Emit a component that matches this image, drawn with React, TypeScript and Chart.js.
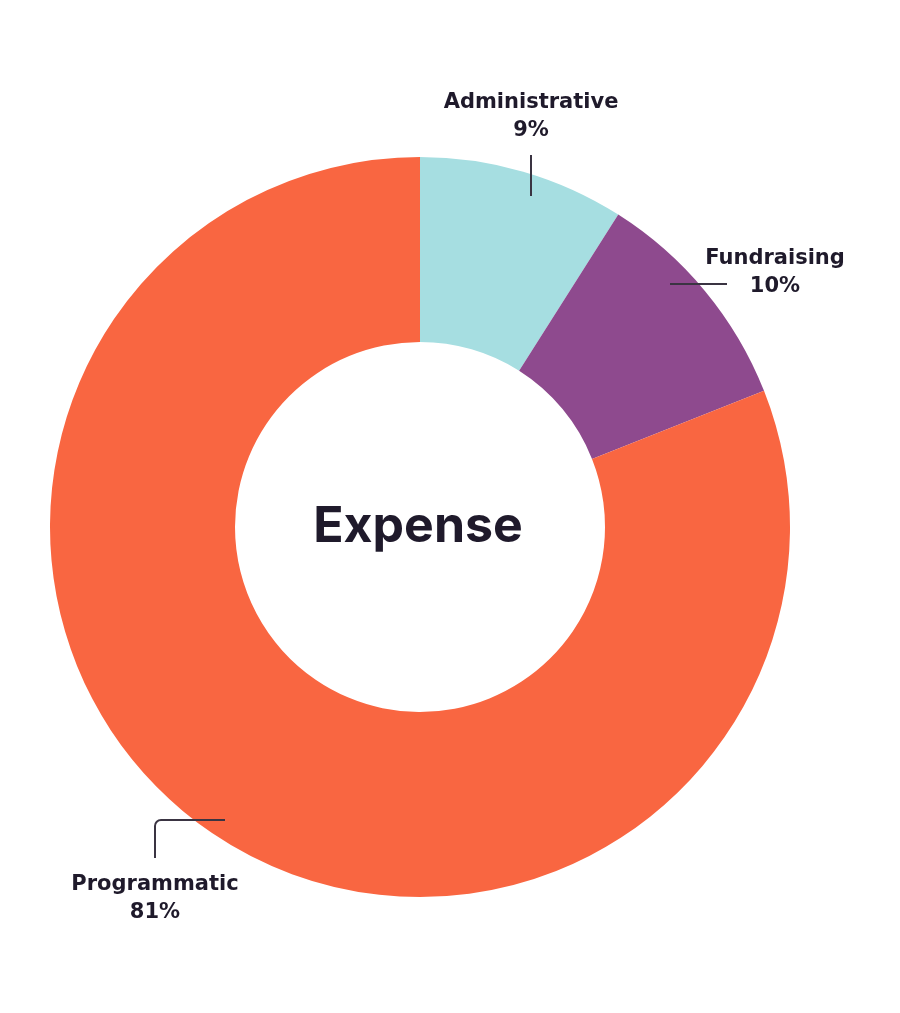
import React, { useEffect, useRef } from "react";
import { Chart, registerables } from "chart.js";

Chart.register(...registerables);

const categories = ["Administrative", "Fundraising", "Programmatic"];
const values = [9, 10, 81];
const valueLabels = ["9%", "10%", "81%"];
const colors = ["#A6DEE1", "#8E4A8E", "#F96641"];
const centerTitle = "Expense";

const TEXT = "#1F1A2B";
const LINE = "#3A3442";
const TITLE_FONT = "Inter, 'Noto Sans', sans-serif";
const LABEL_FONT = "'DejaVu Sans', 'Noto Sans', sans-serif";

// label placement offsets relative to the doughnut centre (styling, not data)
const labelLayout = [
  { tx: 111, ty: -424, line: [[111, -372], [111, -331]] },
  { tx: 355, ty: -268, line: [[250, -243], [307, -243]] },
  { tx: -265, ty: 358, line: [[-195, 293], [-265, 293], [-265, 331]], rounded: true },
];

const labelPlugin = {
  id: "expenseLabels",
  afterDraw(chart: any) {
    const ctx = chart.ctx;
    const meta = chart.getDatasetMeta(0);
    const arc = meta.data[0];
    const cx = arc.x;
    const cy = arc.y;
    ctx.save();
    // centre title
    ctx.fillStyle = TEXT;
    ctx.textAlign = "center";
    ctx.textBaseline = "middle";
    ctx.font = `700 50px ${TITLE_FONT}`;
    ctx.fillText(centerTitle, cx - 2, cy);

    categories.forEach((cat, i) => {
      const l = labelLayout[i];
      ctx.strokeStyle = LINE;
      ctx.lineWidth = 2;
      ctx.beginPath();
      const pts = l.line;
      ctx.moveTo(cx + pts[0][0], cy + pts[0][1]);
      if (l.rounded && pts.length === 3) {
        ctx.arcTo(cx + pts[1][0], cy + pts[1][1], cx + pts[2][0], cy + pts[2][1], 6);
        ctx.lineTo(cx + pts[2][0], cy + pts[2][1]);
      } else {
        for (let k = 1; k < pts.length; k++) ctx.lineTo(cx + pts[k][0], cy + pts[k][1]);
      }
      ctx.stroke();

      ctx.fillStyle = TEXT;
      ctx.font = `700 21px ${LABEL_FONT}`;
      ctx.textAlign = "center";
      ctx.textBaseline = "middle";
      ctx.fillText(cat, cx + l.tx, cy + l.ty);
      ctx.fillText(valueLabels[i], cx + l.tx, cy + l.ty + 28);
    });
    ctx.restore();
  },
};

export default function App() {
  const ref = useRef<HTMLCanvasElement>(null);
  useEffect(() => {
    const chart = new Chart(ref.current!, {
      type: "doughnut",
      data: {
        labels: categories,
        datasets: [
          {
            data: values,
            backgroundColor: colors,
            borderWidth: 0,
          },
        ],
      },
      options: {
        responsive: false,
        animation: false,
        cutout: "50%",
        rotation: 0,
        layout: { padding: { left: 50, right: 110, top: 157, bottom: 116 } },
        plugins: {
          legend: { display: false },
          tooltip: { enabled: false },
        },
      },
      plugins: [labelPlugin],
    });
    return () => chart.destroy();
  }, []);
  return (
    <div style={{ position: "fixed", left: 0, top: 0, width: 900, height: 1013, background: "#fff" }}>
      <canvas ref={ref} width={900} height={1013} style={{ width: 900, height: 1013 }} />
    </div>
  );
}
